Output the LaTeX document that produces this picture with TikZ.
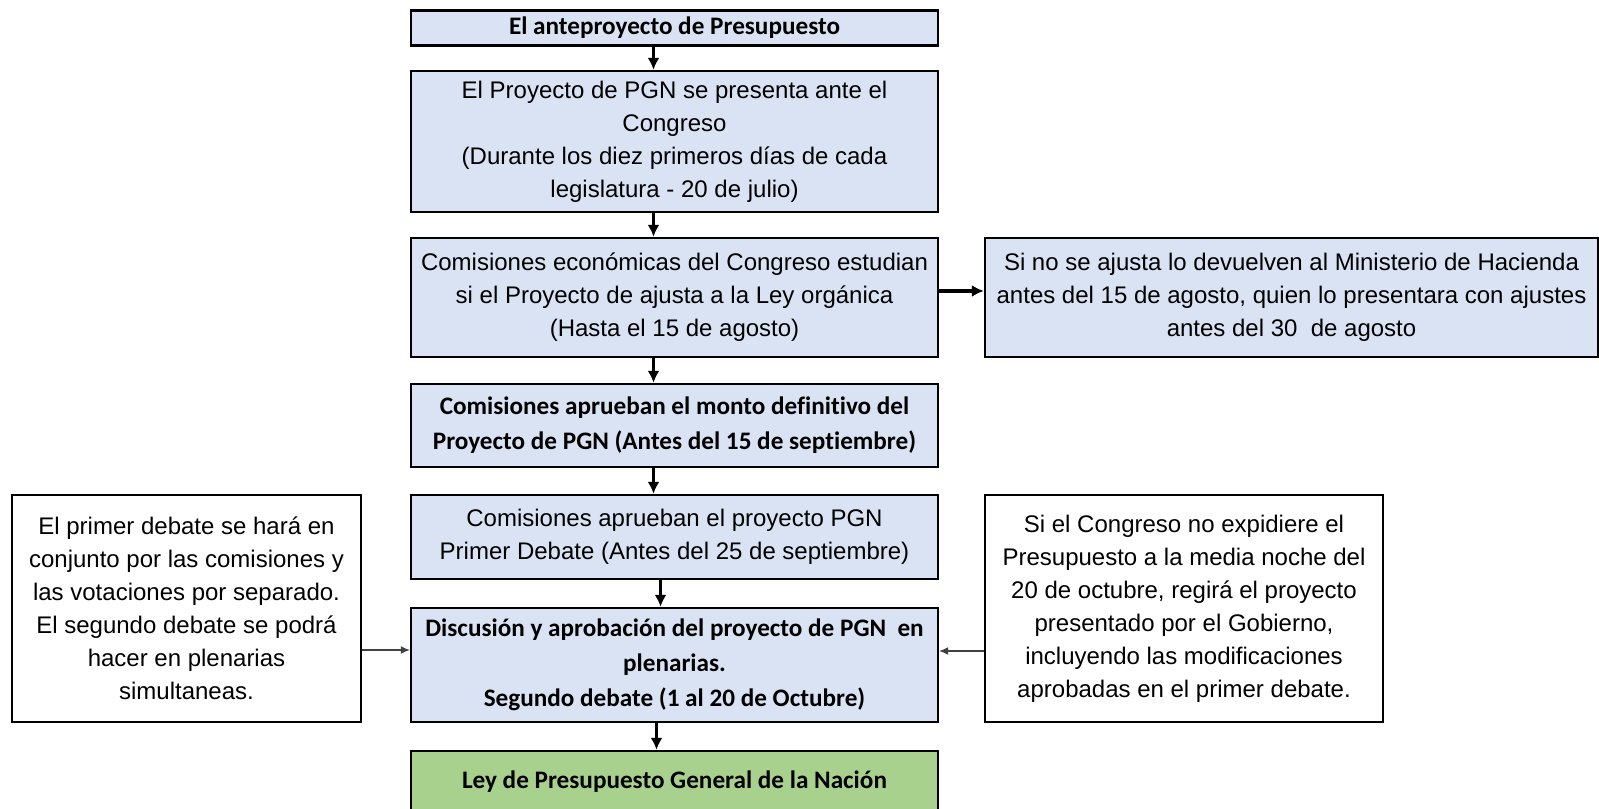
\documentclass[tikz,border=0pt]{standalone}
\usepackage{fontspec}
\setmainfont{Liberation Sans}
\newfontfamily\carl{Carlito}[Ligatures=NoCommon]
\usetikzlibrary{arrows.meta}
\definecolor{boxblue}{HTML}{DAE3F3}
\definecolor{boxgreen}{HTML}{A9D18E}

\begin{document}
\begin{tikzpicture}[x=0.5pt,y=-0.5pt,
  box/.style={draw, line width=1.2pt, fill=boxblue, align=center, inner sep=0pt,
    font=\fontsize{12}{16.5}\selectfont},
  bbox/.style={box, font=\carl\bfseries\fontsize{12.6}{17.5}\selectfont},
  note/.style={box, fill=white},
  arr/.style={-{Latex[length=6pt,width=6pt]}, line width=1.8pt},
  thin/.style={-{Latex[length=4.5pt,width=4pt]}, line width=0.6pt, black!75}]
\useasboundingbox (0,0) rectangle (1599,808);

\node[bbox, minimum width=263.5pt, minimum height=17.5pt] (a) at (674.5,28) {El anteproyecto de Presupuesto};
\node[box, minimum width=263.5pt, minimum height=70.5pt] (b) at (674.5,141.5) {El Proyecto de PGN se presenta ante el\\Congreso\\(Durante los diez primeros días de cada\\legislatura - 20 de julio)};
\node[box, minimum width=263.5pt, minimum height=59.5pt] (c) at (674.5,297.5) {Comisiones económicas del Congreso estudian\\si el Proyecto de ajusta a la Ley orgánica\\(Hasta el 15 de agosto)};
\node[bbox, minimum width=263.5pt, minimum height=41.5pt] (d) at (674.5,425.5) {Comisiones aprueban el monto definitivo del\\Proyecto de PGN (Antes del 15 de septiembre)};
\node[box, minimum width=263.5pt, minimum height=42pt] (e) at (674.5,537) {Comisiones aprueban el proyecto PGN\\Primer Debate (Antes del 25 de septiembre)};
\node[bbox, minimum width=263.5pt, minimum height=57pt] (f) at (674.5,665) {Discusión y aprobación del proyecto de PGN\ \ en\\plenarias.\\Segundo debate (1 al 20 de Octubre)};
\node[bbox, fill=boxgreen, minimum width=263.5pt, minimum height=30.5pt] (g) at (674.5,781.5) {Ley de Presupuesto General de la Nación};

\node[box, minimum width=306.5pt, minimum height=59.5pt] (r1) at (1291.5,297.5) {Si no se ajusta lo devuelven al Ministerio de Hacienda\\antes del 15 de agosto, quien lo presentara con ajustes\\antes del 30\ \ de agosto};
\node[note, minimum width=174.5pt, minimum height=113.5pt] (l) at (186.5,608.5) {El primer debate se hará en\\conjunto por las comisiones y\\las votaciones por separado.\\El segundo debate se podrá\\hacer en plenarias\\simultaneas.};
\node[note, minimum width=199pt, minimum height=113.5pt] (r2) at (1184,608.5) {Si el Congreso no expidiere el\\Presupuesto a la media noche del\\20 de octubre, regirá el proyecto\\presentado por el Gobierno,\\incluyendo las modificaciones\\aprobadas en el primer debate.};

\draw[arr] ([xshift=-10.5pt]a.south) -- ([xshift=-10.5pt]b.north);
\draw[arr] ([xshift=-10.5pt]b.south) -- ([xshift=-10.5pt]c.north);
\draw[arr] ([xshift=-10.5pt]c.south) -- ([xshift=-10.5pt]d.north);
\draw[arr] ([xshift=-10.5pt]d.south) -- ([xshift=-10.5pt]e.north);
\draw[arr] ([xshift=-7pt]e.south) -- ([xshift=-7pt]f.north);
\draw[arr] ([xshift=-9pt]f.south) -- ([xshift=-9pt]g.north);
\draw[arr] ([yshift=3.25pt]c.east) -- ([yshift=3.25pt]c.east -| r1.west);
\draw[thin] ([yshift=7.5pt]f.west -| l.east) -- ([yshift=7.5pt]f.west);
\draw[thin] ([yshift=7pt]f.east -| r2.west) -- ([yshift=7pt]f.east);
\end{tikzpicture}
\end{document}
